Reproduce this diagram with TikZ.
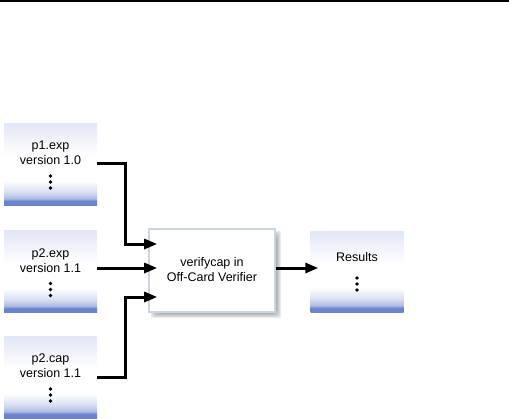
\documentclass[tikz,border=0pt]{standalone}
\usepackage{fontspec}
\setmainfont{Liberation Sans}
\usetikzlibrary{arrows.meta,calc}
\definecolor{bandblue}{HTML}{6B83CB}
\definecolor{midblue}{HTML}{AEBBE3}
\definecolor{paleblue}{HTML}{D9DFF2}
\definecolor{toplav}{HTML}{E2E6F5}
\definecolor{cborder}{HTML}{CBD5DF}
\pgfdeclareverticalshading{filebox}{100bp}{
  color(0bp)=(bandblue); color(25bp)=(bandblue); color(27.5bp)=(bandblue);
  color(29bp)=(midblue); color(33bp)=(paleblue); color(40bp)=(white);
  color(55bp)=(white); color(75bp)=(toplav); color(100bp)=(toplav)}
\tikzset{
  filebox/.style={rectangle, minimum width=93pt, minimum height=82pt, inner sep=0pt, shading=filebox},
  centerbox/.style={rectangle, minimum width=126pt, minimum height=83pt, inner sep=0pt,
    draw=cborder, line width=1.6pt, fill=white},
  shadowlayer/.style={fill=black, opacity=0.07},
  lbl/.style={align=center, font=\fontsize{12.5}{15}\selectfont, inner sep=0pt},
  conn/.style={line width=3pt, -{Triangle[length=13pt,width=10pt]}},
  dot/.style={circle, fill=black, inner sep=0pt, minimum size=3.8pt},
}
\newcommand{\vdotsat}[3]{%
  \node[dot] (#1a) at (#2,#3) {};
  \node[dot] (#1b) at (#2,#3+6) {};
  \node[dot] (#1c) at (#2,#3+12) {};}
\begin{document}
\begin{tikzpicture}[x=1pt,y=-1pt]
\useasboundingbox (0,0) rectangle (509,418);
\coordinate (tl) at (0,1);
\coordinate (tr) at (509,1);
\draw[line width=1.5pt] (tl) -- (tr);

% file boxes
\node[filebox] (f1) at (50.5,164) {};
\node[lbl] (t1) at (50.5,153) {p1.exp\\version 1.0};
\vdotsat{d1}{50.5}{176}
\node[filebox] (f2) at (50.5,271.5) {};
\node[lbl] (t2) at (50.5,260.5) {p2.exp\\version 1.1};
\vdotsat{d2}{50.5}{283.5}
\node[filebox] (f3) at (50.5,377) {};
\node[lbl] (t3) at (50.5,366) {p2.cap\\version 1.1};
\vdotsat{d3}{50.5}{389}

% center box with soft shadow
\coordinate (s0) at (149,229);
\coordinate (s1) at (275,312);
\foreach \d in {1,2,3,4,5}
  \fill[shadowlayer, rounded corners=\d pt] ($(s0)+(\d+1,\d+1)$) rectangle ($(s1)+(6-\d+1,6-\d+1)$);
\node[centerbox] (v) at (212,270.5) {};
\node[lbl] (vt) at (212,270) {verifycap in\\Off-Card Verifier};

% results
\node[filebox, minimum height=81pt] (r) at (357,271.5) {};
\node[lbl] (rt) at (357,257) {Results};
\vdotsat{d4}{357}{278}

% connectors
\coordinate (a1) at ($(f1.east)+(0,-1)$);
\coordinate (a3) at ($(f3.east)+(0,0)$);
\draw[conn] (a1) -| (125,244) -- ($(v.west|-0,244)+(9,0)$);
\draw[conn] (f2.east|-0,268) -- ($(v.west|-0,268)+(9,0)$);
\draw[conn] (a3) -| (125,297) -- ($(v.west|-0,297)+(9,0)$);
\draw[conn] (v.east|-0,268) -- ($(r.west|-0,268)+(8,0)$);
\end{tikzpicture}
\end{document}
